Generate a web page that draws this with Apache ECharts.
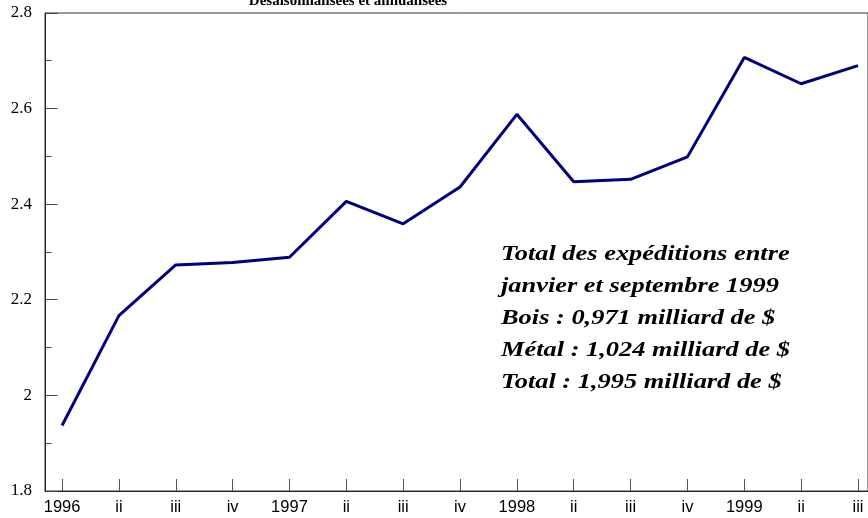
<!DOCTYPE html>
<html>
<head>
<meta charset="utf-8">
<script src="https://cdn.jsdelivr.net/npm/echarts@6/dist/echarts.min.js"></script>
<style>html,body{margin:0;padding:0;background:#fff;}#c{width:868px;height:518px;}</style>
</head>
<body>
<div id="c"></div>
<script>
const categories = ['1996','ii','iii','iv','1997','ii','iii','iv','1998','ii','iii','iv','1999','ii','iii'];
const shipments = [1.937, 2.167, 2.273, 2.278, 2.289, 2.406, 2.359, 2.436, 2.588, 2.447, 2.452, 2.499, 2.707, 2.652, 2.690];
const yTicks = [1.8, 2.0, 2.2, 2.4, 2.6, 2.8];
const titleText = 'Désaisonnalisées et annualisées';
const noteLines = [
  'Total des expéditions entre',
  'janvier et septembre 1999',
  'Bois : 0,971 milliard de $',
  'Métal : 1,024 milliard de $',
  'Total : 1,995 milliard de $'
];

const X_MIN = -0.3, X_MAX = 14.176;
const idx = categories.map((_, i) => i);
const chart = echarts.init(document.getElementById('c'), null, {renderer: 'canvas'});
chart.setOption({
  animation: false,
  backgroundColor: '#fff',
  grid: {left: 45, right: 0, top: 13, bottom: 27, show: true, borderColor: '#333', borderWidth: 1, backgroundColor: 'transparent'},
  xAxis: {
    type: 'value', min: X_MIN, max: X_MAX,
    splitLine: {show: false},
    axisLine: {show: true, onZero: false, lineStyle: {color: '#222', width: 1}},
    axisTick: {show: true, inside: true, length: 12, customValues: idx, lineStyle: {color: '#555', width: 1}},
    axisLabel: {customValues: idx, formatter: v => categories[Math.round(v)], fontFamily: 'Liberation Sans, Arial, sans-serif', fontSize: 16.5, color: '#000', margin: 8}
  },
  yAxis: {
    type: 'value', min: 1.8, max: 2.8, interval: 0.2,
    splitLine: {show: false},
    axisLine: {show: true, onZero: false, lineStyle: {color: '#222', width: 1}},
    axisTick: {show: false},
    minorTick: {show: false},
    axisLabel: {customValues: yTicks, formatter: v => String(+(+v).toFixed(1)), fontFamily: 'Liberation Serif, Times New Roman, serif', fontSize: 17, color: '#000', margin: 13}
  },
  series: [{
    type: 'line',
    data: shipments.map((v, i) => [i, v]),
    symbol: 'none',
    lineStyle: {color: '#000080', width: 3},
    clip: false
  }]
});

// y-axis ticks (major + minor), pointing inward, positioned through the axis scale
const axisX = Math.round(chart.convertToPixel({xAxisIndex: 0}, X_MIN) - 0.5) + 0.5;
const minorVals = yTicks.slice(1).map((v, i) => (v + yTicks[i]) / 2);
const tickLine = (v, len) => {
  const y = Math.round(chart.convertToPixel({yAxisIndex: 0}, v) - 0.5) + 0.5;
  return {type: 'line', silent: true, z: 5, shape: {x1: axisX, y1: y, x2: axisX + len, y2: y}, style: {stroke: '#444', lineWidth: 1}};
};
const tickGraphics = yTicks.map(v => tickLine(v, 12)).concat(minorVals.map(v => tickLine(v, 6)));

chart.setOption({
  graphic: [
    {type: 'text', x: 348, y: 9, style: {text: titleText, font: 'bold 15px "Liberation Serif", serif', fill: '#000', textAlign: 'center', textVerticalAlign: 'bottom'}},
    {type: 'text', x: 501, y: 238, scaleX: 1.2, style: {text: noteLines.join('\n'), font: 'italic bold 22px "Liberation Serif", serif', lineHeight: 32, fill: '#000'}}
  ].concat(tickGraphics)
});
</script>
</body>
</html>
